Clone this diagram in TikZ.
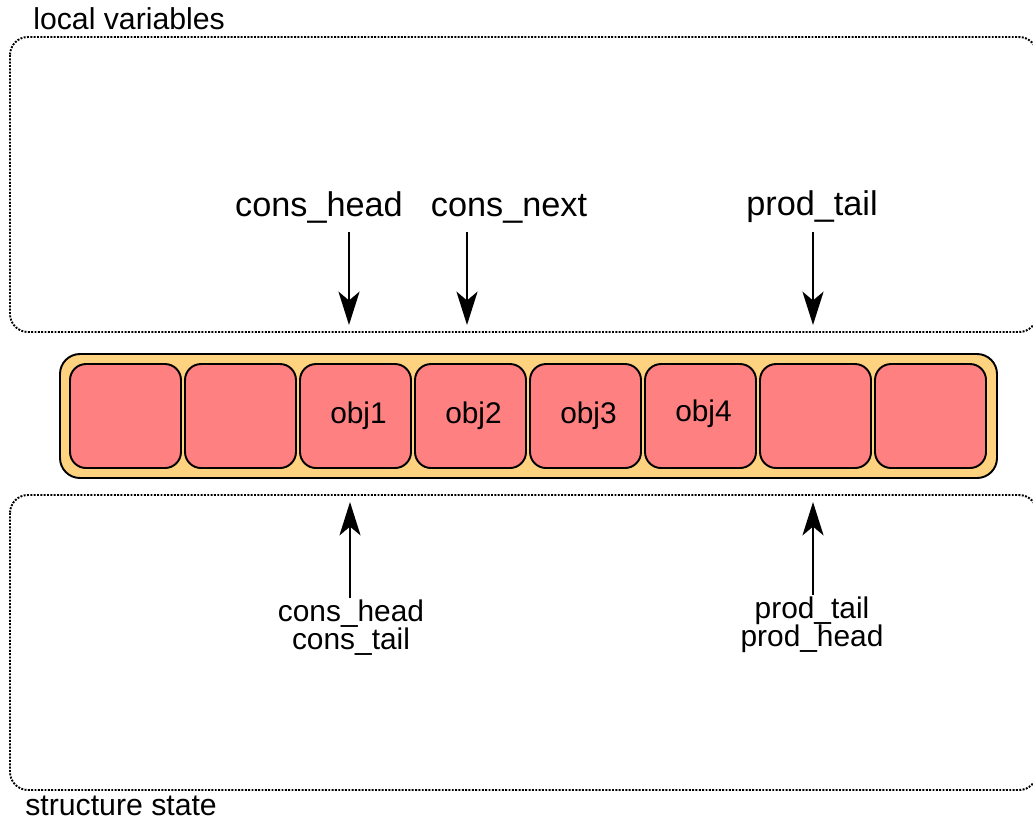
\documentclass[tikz,border=0pt]{standalone}
\usepackage{fontspec}
\setmainfont{Liberation Sans}
\usepackage{tikz}
\usetikzlibrary{arrows.meta, positioning}

\definecolor{ringfill}{HTML}{FFD280}
\definecolor{cellfill}{HTML}{FF8080}

\begin{document}
\begin{tikzpicture}[x=0.02cm, y=-0.02cm,
		cell/.style={draw, fill=cellfill, line width=1.1pt, rounded corners=0.32cm,
			minimum width=2.22cm, minimum height=2.08cm, inner sep=0pt},
		celltext/.style={font=\fontsize{17}{19}\selectfont},
		biglabel/.style={font=\fontsize{19.5}{22}\selectfont, inner sep=5pt},
		smalllabel/.style={font=\fontsize{17}{19}\selectfont, align=center, inner sep=1pt},
		arealabel/.style={font=\fontsize{17.2}{19}\selectfont, inner sep=0pt},
		area/.style={line width=1.1pt, dash pattern=on 1.1pt off 0.8pt, rounded corners=0.36cm},
		arr/.style={line width=1.1pt, -{Stealth[length=19pt, width=12pt, inset=5pt]}}]
		\useasboundingbox (0,0) rectangle (1033,823);
		% Areas
		\draw[area] (10,37) rectangle (1037,332);
		\draw[area] (10,495) rectangle (1037,790);
		\node[arealabel, anchor=west] (local) at (33,19) {local variables};
		\node[arealabel, anchor=west] (state) at (25,806) {structure state};
		% Ring
		\draw[fill=ringfill, line width=1.1pt, rounded corners=0.4cm] (60,354) rectangle (997,478);
		\foreach \i in {1,...,8}
			\node[cell] (c\i) at ({125.5+115*(\i-1)},416) {};
		\node[celltext] at ([xshift=0.06cm]c3) {obj1};
		\node[celltext] at ([xshift=0.06cm]c4) {obj2};
		\node[celltext] at ([xshift=0.06cm]c5) {obj3};
		\node[celltext] at ([xshift=0.06cm, yshift=0.05cm]c6) {obj4};
		% Local variables
		\node[biglabel, anchor=south] (lconshead) at (319,232) {cons\_head};
		\node[biglabel, anchor=south] (lconsnext) at (509,232) {cons\_next};
		\node[biglabel, anchor=south] (lprodtail) at (812,232) {prod\_tail};
		\coordinate (tconshead) at (349,325);
		\coordinate (tconsnext) at (467,325);
		\coordinate (tprodtail) at (813,325);
		\draw[arr] (lconshead.south -| tconshead) -- (tconshead);
		\draw[arr] (lconsnext.south -| tconsnext) -- (tconsnext);
		\draw[arr] (lprodtail.south -| tprodtail) -- (tprodtail);
		% Structure state
		\node[smalllabel, anchor=north] (lcons) at (351,598) {cons\_head\\[-3pt]cons\_tail};
		\node[smalllabel, anchor=north] (lprod) at (812,595) {prod\_tail\\[-3pt]prod\_head};
		\coordinate (tcons) at (350,502);
		\coordinate (tprod) at (813,502);
		\draw[arr] (lcons.north -| tcons) -- (tcons);
		\draw[arr] (lprod.north -| tprod) -- (tprod);
	\end{tikzpicture}
\end{document}
